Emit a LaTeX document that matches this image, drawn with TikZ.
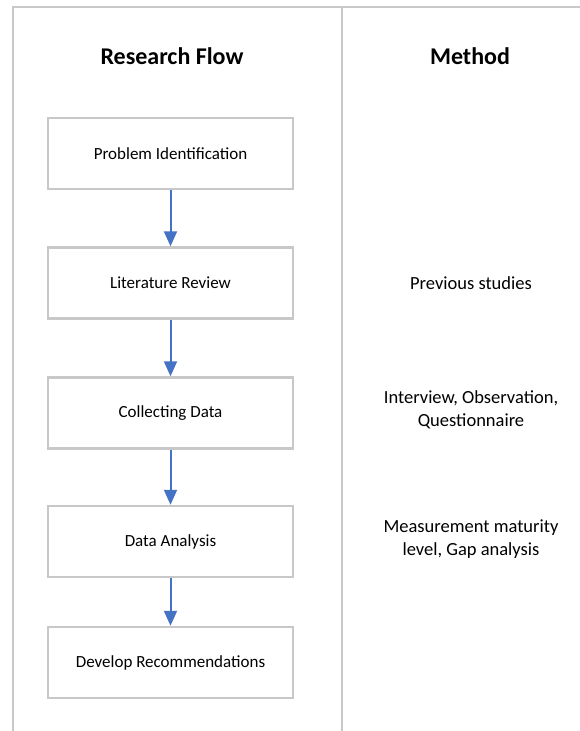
\documentclass[tikz,border=0pt]{standalone}
\usepackage{fontspec}
\setmainfont{Carlito}
\usetikzlibrary{arrows.meta,positioning}
\definecolor{framegray}{RGB}{200,200,200}
\definecolor{flowblue}{RGB}{68,114,196}
\tikzset{
  stepbox/.style={draw=framegray, line width=2.5pt, minimum width=245pt,
    minimum height=71pt, inner sep=0pt, font=\fontsize{17}{20}\selectfont},
  methodtext/.style={align=center, inner sep=0pt, font=\fontsize{18.5}{23}\selectfont},
  headtext/.style={inner sep=0pt, font=\fontsize{24}{28}\selectfont\bfseries},
  flowarrow/.style={draw=flowblue, line width=2pt, -{Triangle[width=13pt,length=15pt]}},
  frameline/.style={draw=framegray, line width=2.5pt}
}
\begin{document}
\begin{tikzpicture}[x=1pt,y=-1pt]
	\useasboundingbox (0,0) rectangle (580,731);

	% frame of the table
	\coordinate (TL) at (13,7);
	\coordinate (TR) at (580,7);
	\coordinate (BL) at (13,731);
	\coordinate (TM) at (342,7);
	\coordinate (BM) at (342,731);
	\draw[frameline] (TR) -- (TL) -- (BL);
	\draw[frameline] (TM) -- (BM);

	\node (H1)[headtext] at (172,56) {Research Flow};
	\node (H2)[headtext] at (470,56) {Method};

	\node (B1)[stepbox] at (170.5,153.5) {Problem Identification};
	\node (B2)[stepbox] at (170.5,283) {Literature Review};
	\node (B3)[stepbox] at (170.5,413) {Collecting Data};
	\node (B4)[stepbox] at (170.5,541.5) {Data Analysis};
	\node (B5)[stepbox] at (170.5,662.5) {Develop Recommendations};

	\node (M2)[methodtext] at (471,283) {Previous studies};
	\node (M3)[methodtext] at (471,410) {Interview, Observation,\\ Questionnaire};
	\node (M4)[methodtext] at (471,539) {Measurement maturity\\ level, Gap analysis};

	\draw[flowarrow] (B1) -- (B2);
	\draw[flowarrow] (B2) -- (B3);
	\draw[flowarrow] (B3) -- (B4);
	\draw[flowarrow] (B4) -- (B5);

\end{tikzpicture}
\end{document}
